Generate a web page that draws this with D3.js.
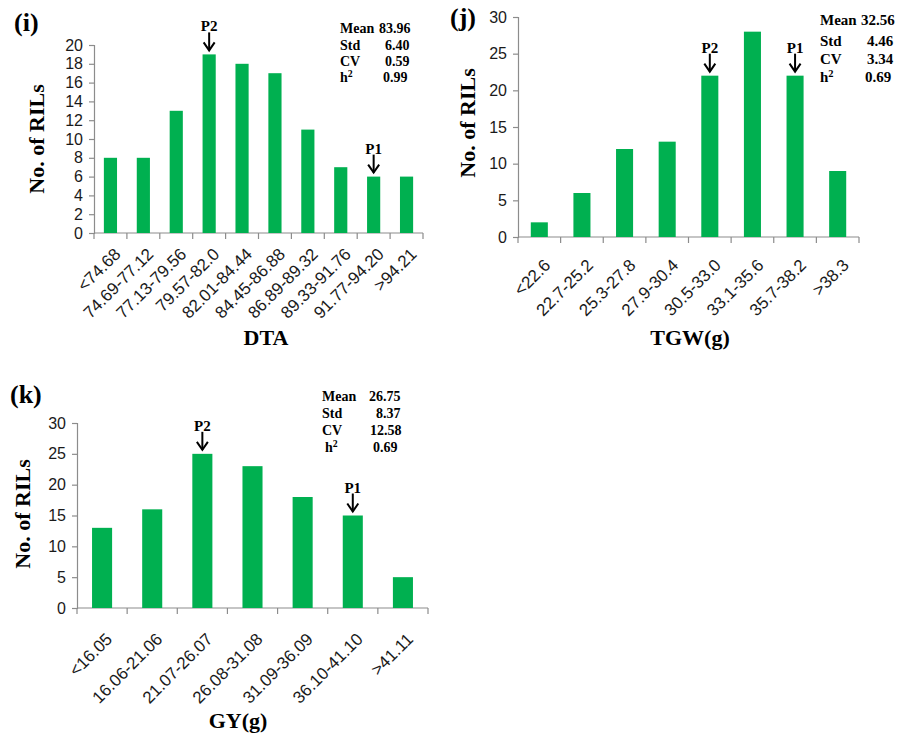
<!DOCTYPE html>
<html>
<head>
<meta charset="utf-8">
<script src="https://cdn.jsdelivr.net/npm/d3@7"></script>
<style>
  html, body { margin: 0; padding: 0; background: #fff; }
  svg { display: block; }
  .tick-label { font-family: "Liberation Sans", Arial, sans-serif; font-size: 16px; fill: #1a1a1a; }
  .xlab { font-size: 17px; }
  .serif-b { font-family: "Liberation Serif", "Times New Roman", serif; font-weight: bold; fill: #000; }
</style>
</head>
<body>
<svg id="chart" width="904" height="736"></svg>
<script>
// ---- Data: RIL frequency distributions ----
const dtaCategories = ["<74.68", "74.69-77.12", "77.13-79.56", "79.57-82.0", "82.01-84.44",
                       "84.45-86.88", "86.89-89.32", "89.33-91.76", "91.77-94.20", ">94.21"];
const dtaCounts = [8, 8, 13, 19, 18, 17, 11, 7, 6, 6];
const dtaTicks = [0, 2, 4, 6, 8, 10, 12, 14, 16, 18, 20];
const dtaStats = [["Mean", "83.96"], ["Std", "6.40"], ["CV", "0.59"], ["h", "0.99"]];
const dtaParents = [["P2", "79.57-82.0"], ["P1", "91.77-94.20"]];

const tgwCategories = ["<22.6", "22.7-25.2", "25.3-27.8", "27.9-30.4", "30.5-33.0",
                       "33.1-35.6", "35.7-38.2", ">38.3"];
const tgwCounts = [2, 6, 12, 13, 22, 28, 22, 9];
const tgwTicks = [0, 5, 10, 15, 20, 25, 30];
const tgwStats = [["Mean", "32.56"], ["Std", "4.46"], ["CV", "3.34"], ["h", "0.69"]];
const tgwParents = [["P2", "30.5-33.0"], ["P1", "35.7-38.2"]];

const gyCategories = ["<16.05", "16.06-21.06", "21.07-26.07", "26.08-31.08",
                      "31.09-36.09", "36.10-41.10", ">41.11"];
const gyCounts = [13, 16, 25, 23, 18, 15, 5];
const gyTicks = [0, 5, 10, 15, 20, 25, 30];
const gyStats = [["Mean", "26.75"], ["Std", "8.37"], ["CV", "12.58"], ["h", "0.69"]];
const gyParents = [["P2", "21.07-26.07"], ["P1", "36.10-41.10"]];

const BAR_GREEN = "#00b050";
const AXIS_GREY = "#8c8c8c";

const svg = d3.select("#chart");

function drawPanel(p) {
  const g = svg.append("g");

  const y = d3.scaleLinear().domain([0, p.yMax]).range([p.yBottom, p.yTop]);
  const xb = d3.scaleBand().domain(p.categories).range([p.xLeft, p.xRight]).padding(0);
  const x = d3.scaleBand().domain(p.categories).range([p.xLeft, p.xRight])
    .paddingInner(0.6).paddingOuter(0.3);

  // y axis: grey line with outward ticks
  const yAxis = d3.axisLeft(y).tickValues(p.ticks).tickSize(5).tickPadding(6);
  const ya = g.append("g").attr("transform", `translate(${p.xLeft},0)`).call(yAxis);
  ya.select(".domain").attr("stroke", AXIS_GREY).attr("stroke-width", 1.2);
  ya.selectAll(".tick line").attr("stroke", AXIS_GREY).attr("stroke-width", 1.2);
  ya.selectAll(".tick text").attr("class", "tick-label").attr("fill", null);

  // x axis: baseline with tick marks at category boundaries
  g.append("line")
    .attr("x1", p.xLeft).attr("x2", p.xRight)
    .attr("y1", y(0)).attr("y2", y(0))
    .attr("stroke", AXIS_GREY).attr("stroke-width", 1.2);
  const bounds = p.categories.map(c => xb(c)).concat([p.xRight]);
  g.selectAll(".xtick").data(bounds).join("line")
    .attr("x1", d => d).attr("x2", d => d)
    .attr("y1", y(0)).attr("y2", y(0) + 6)
    .attr("stroke", AXIS_GREY).attr("stroke-width", 1.2);

  // bars
  g.selectAll("rect.bar").data(p.counts).join("rect")
    .attr("class", "bar")
    .attr("x", (d, i) => x(p.categories[i]))
    .attr("width", x.bandwidth())
    .attr("y", d => y(d))
    .attr("height", d => y(0) - y(d))
    .attr("fill", BAR_GREEN);

  // rotated category labels
  g.selectAll("text.xlab").data(p.categories).join("text")
    .attr("class", "tick-label xlab")
    .attr("text-anchor", "end")
    .attr("dy", "0.35em")
    .attr("transform", d => `translate(${x(d) + x.bandwidth() / 2 + p.labDx},${y(0) + p.labDy}) rotate(-45)`)
    .text(d => d);

  // axis titles
  g.append("text").attr("class", "serif-b")
    .attr("font-size", 22)
    .attr("text-anchor", "middle")
    .attr("x", p.xTitle[0]).attr("y", p.xTitle[1])
    .text(p.xTitleText);
  g.append("text").attr("class", "serif-b")
    .attr("font-size", 22)
    .attr("text-anchor", "middle")
    .attr("transform", `translate(${p.yTitle[0]},${p.yTitle[1]}) rotate(-90)`)
    .attr("dy", "0.35em")
    .text("No. of RILs");

  // panel letter
  g.append("text").attr("class", "serif-b")
    .attr("font-size", 26)
    .attr("x", p.letterPos[0]).attr("y", p.letterPos[1])
    .text(p.letter);

  // summary statistics
  p.stats.forEach((s, i) => {
    const t = g.append("text").attr("class", "serif-b").attr("font-size", p.statSize)
      .attr("x", p.statLabelX[i]).attr("y", p.statY[i]);
    t.append("tspan").text(s[0]);
    if (s[0] === "h") {
      t.append("tspan").attr("font-size", p.statSize * 0.7).attr("dy", -5).text("2");
    }
    g.append("text").attr("class", "serif-b").attr("font-size", p.statSize)
      .attr("x", p.statValueX[i]).attr("y", p.statY[i])
      .text(s[1]);
  });

  // parent markers: label + downward arrow over the bar
  p.parents.forEach(([label, cat]) => {
    const idx = p.categories.indexOf(cat);
    const cx = x(cat) + x.bandwidth() / 2;
    const top = y(p.counts[idx]);
    const tip = top - 4, start = top - 22;
    g.append("text").attr("class", "serif-b").attr("font-size", 15)
      .attr("text-anchor", "middle")
      .attr("x", cx).attr("y", start - 1)
      .text(label);
    g.append("line")
      .attr("x1", cx).attr("x2", cx).attr("y1", start).attr("y2", tip)
      .attr("stroke", "#000").attr("stroke-width", 2);
    g.append("path")
      .attr("d", `M${cx - 5.5},${tip - 8} L${cx},${tip} L${cx + 5.5},${tip - 8}`)
      .attr("fill", "none").attr("stroke", "#000").attr("stroke-width", 2);
  });
}

drawPanel({
  categories: dtaCategories, counts: dtaCounts, ticks: dtaTicks, yMax: 20,
  stats: dtaStats, parents: dtaParents, letter: "(i)", xTitleText: "DTA",
  xLeft: 94, xRight: 423, yTop: 45, yBottom: 233,
  labDx: 7, labDy: 18,
  xTitle: [266, 345], yTitle: [36, 139], letterPos: [14, 31],
  statSize: 14,
  statLabelX: [340, 340, 340, 340], statValueX: [379, 385, 385, 383], statY: [33, 50, 66, 82]
});

drawPanel({
  categories: tgwCategories, counts: tgwCounts, ticks: tgwTicks, yMax: 30,
  stats: tgwStats, parents: tgwParents, letter: "(j)", xTitleText: "TGW(g)",
  xLeft: 518, xRight: 859, yTop: 17, yBottom: 237,
  labDx: 8, labDy: 25,
  xTitle: [690, 345], yTitle: [467, 123], letterPos: [450, 26],
  statSize: 15,
  statLabelX: [820, 820, 820, 820], statValueX: [861, 867, 867, 865], statY: [25, 46, 64, 82]
});

drawPanel({
  categories: gyCategories, counts: gyCounts, ticks: gyTicks, yMax: 30,
  stats: gyStats, parents: gyParents, letter: "(k)", xTitle: [238, 728], xTitleText: "GY(g)",
  xLeft: 77, xRight: 428, yTop: 423, yBottom: 608,
  labDx: 7, labDy: 28,
  yTitle: [22, 514], letterPos: [10, 403],
  statSize: 14,
  statLabelX: [322, 322, 322, 325], statValueX: [369, 376, 370, 373], statY: [401, 418, 435, 452]
});
</script>
</body>
</html>
